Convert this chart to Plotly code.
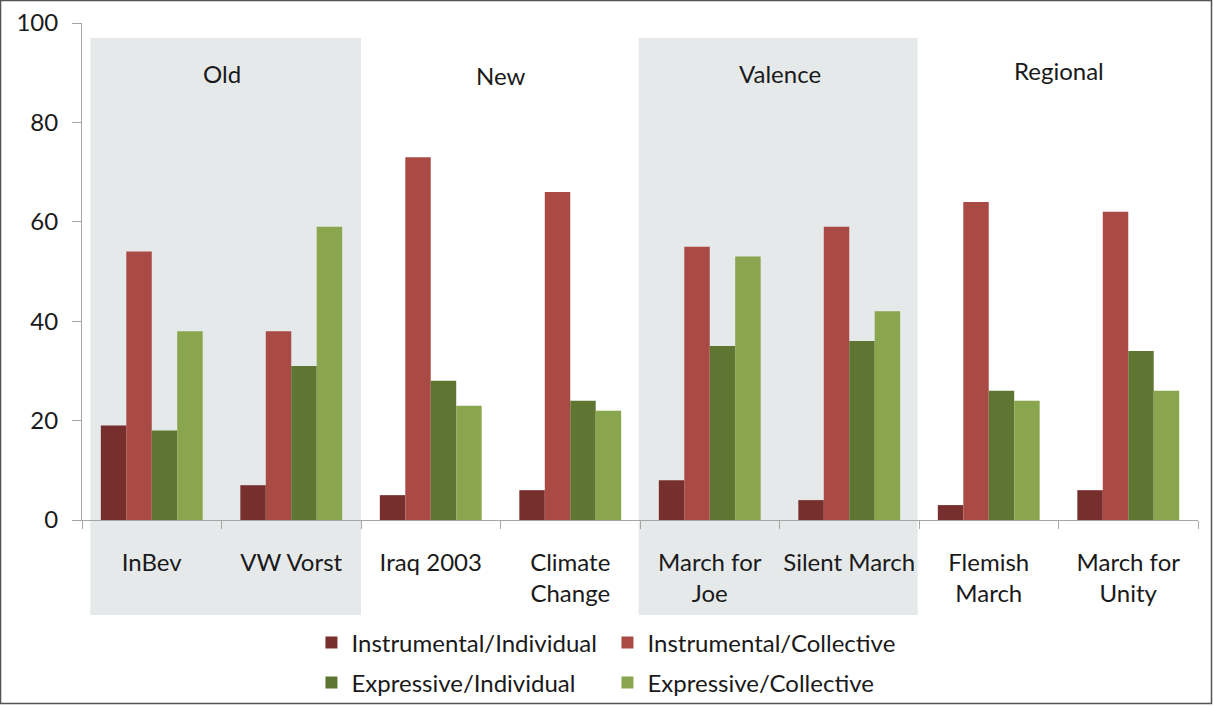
import plotly.graph_objects as go

# Protest events (x categories) and motive shares (%) per type
events = ["InBev", "VW Vorst", "Iraq 2003", "Climate<br>Change",
          "March for<br>Joe", "Silent March", "Flemish<br>March", "March for<br>Unity"]

instrumental_individual = [19, 7, 5, 6, 8, 4, 3, 6]
instrumental_collective = [54, 38, 73, 66, 55, 59, 64, 62]
expressive_individual = [18, 31, 28, 24, 35, 36, 26, 34]
expressive_collective = [38, 59, 23, 22, 53, 42, 24, 26]

series_names = ["Instrumental/Individual", "Instrumental/Collective",
                "Expressive/Individual", "Expressive/Collective"]
series_values = [instrumental_individual, instrumental_collective,
                 expressive_individual, expressive_collective]
series_colors = ["#772F2D", "#A94A44", "#5F7532", "#89A54D"]
series_legends = ["legend", "legend", "legend2", "legend2"]

# Event families, labelled above each pair of events
family_labels = ["Old", "New", "Valence", "Regional"]
family_centers = [0.5, 2.5, 4.5, 6.5]
family_label_y = [89.9, 89.4, 89.9, 90.4]
shaded_families = [(-0.44, 1.5), (3.49, 5.49)]

FONT = "Lato"
TXT = "#1a1a1a"
FS = 24

fig = go.Figure()
for name, vals, col, lg in zip(series_names, series_values, series_colors, series_legends):
    fig.add_trace(go.Bar(x=events, y=vals, name=name, marker_color=col,
                         marker_line_width=0, legend=lg))

# Shaded background panels for alternating families
for x0, x1 in shaded_families:
    fig.add_shape(type="rect", xref="x", yref="paper", x0=x0, x1=x1,
                  y0=-0.191, y1=0.97, fillcolor="#E6E9EA", line_width=0,
                  layer="below")

for lab, xc, yy in zip(family_labels, family_centers, family_label_y):
    fig.add_annotation(x=xc, y=yy, xref="x", yref="y", text=lab, showarrow=False,
                       font=dict(family=FONT, size=FS, color=TXT))

# Outer frame
fig.add_shape(type="rect", xref="paper", yref="paper",
              x0=-0.0730, x1=1.0121, y0=-0.3692, y1=1.0453,
              line=dict(color="#555555", width=1.5), fillcolor="rgba(0,0,0,0)")

legend_common = dict(orientation="h", xanchor="left", x=0.2056, yanchor="middle",
                     entrywidth=251, entrywidthmode="pixels",
                     font=dict(family=FONT, size=FS, color=TXT),
                     bgcolor="rgba(0,0,0,0)", traceorder="normal")

fig.update_layout(
    width=1213, height=706,
    margin=dict(l=82, r=15, t=23, b=186, autoexpand=False),
    paper_bgcolor="white", plot_bgcolor="rgba(0,0,0,0)",
    barmode="group", bargap=0.27, bargroupgap=0,
    font=dict(family=FONT, color=TXT),
    legend=dict(y=-0.2475, **legend_common),
    legend2=dict(y=-0.328, **legend_common),
    xaxis=dict(showline=True, linecolor="#A6A6A6", linewidth=1,
               ticks="outside", tickson="boundaries", ticklen=8, tickcolor="#A6A6A6",
               tickangle=0, ticklabelstandoff=21,
               tickfont=dict(family=FONT, size=FS, color=TXT),
               showgrid=False, range=[-0.5, 7.5]),
    yaxis=dict(range=[0, 100], dtick=20, showline=True, linecolor="#A6A6A6", linewidth=1,
               ticks="outside", ticklen=9, tickcolor="#A6A6A6", showgrid=False,
               zeroline=False, ticklabelstandoff=9,
               tickfont=dict(family=FONT, size=FS, color=TXT)),
)

fig.write_html("out.html")
